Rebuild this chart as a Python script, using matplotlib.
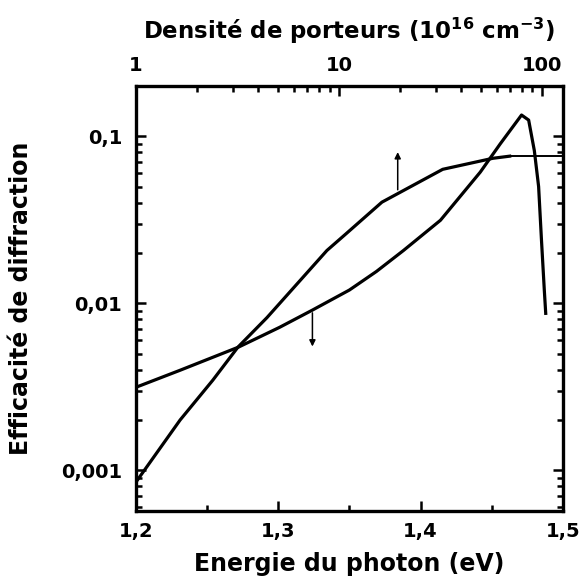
import numpy as np
import matplotlib
matplotlib.use("Agg")
import matplotlib.pyplot as plt
from matplotlib.ticker import FixedLocator, FuncFormatter, LogLocator, NullFormatter

# efficacite vs energie du photon (axe du bas)
energy = [1.200, 1.231, 1.272, 1.301, 1.324, 1.350, 1.369, 1.388, 1.414,
          1.442, 1.456, 1.471, 1.476, 1.480, 1.483, 1.485, 1.487, 1.488]
eff_energy = [0.00314, 0.00397, 0.00546, 0.00718, 0.0091, 0.0120, 0.0155, 0.0207, 0.0314,
              0.061, 0.090, 0.134, 0.125, 0.082, 0.050, 0.024, 0.012, 0.0087]

# efficacite vs densite de porteurs (axe du haut)
density = [1.0, 1.65, 2.39, 3.18, 4.42, 8.73, 10.9, 16.3, 32.5, 57.4, 69.5, 127]
eff_density = [0.00085, 0.0020, 0.00346, 0.00546, 0.0082, 0.0207, 0.0262, 0.0403,
               0.0634, 0.0738, 0.0760, 0.0760]
n_thick = 11  # le plateau final est trace plus fin

# fleches (position, depart, arrivee)
arrow_down = (1.324, 0.0091, 0.0053)
arrow_up = (19.5, 0.046, 0.0835)

plt.rcParams['font.family'] = ['DejaVu Sans']
plt.rcParams['font.weight'] = 'bold'

fig = plt.figure(figsize=(5.82, 5.85), dpi=100)
ax = fig.add_axes([0.2337, 0.1265, 0.967 - 0.2337, 0.853 - 0.1265])

ylabels = {0.001: '0,001', 0.01: '0,01', 0.1: '0,1'}

ax.plot(energy, eff_energy, color='black', lw=2.3, solid_joinstyle='round')
ax.set_yscale('log')
ax.set_xlim(1.2, 1.5)
ax.set_ylim(5.7e-4, 0.2)
ax.xaxis.set_major_locator(FixedLocator([1.2, 1.3, 1.4, 1.5]))
ax.xaxis.set_minor_locator(FixedLocator([1.25, 1.35, 1.45]))
ax.xaxis.set_major_formatter(FuncFormatter(lambda v, p: ('%.1f' % v).replace('.', ',')))
ax.yaxis.set_major_locator(FixedLocator([0.001, 0.01, 0.1]))
ax.yaxis.set_minor_locator(LogLocator(base=10, subs=np.arange(2, 10)))
ax.yaxis.set_minor_formatter(NullFormatter())
ax.yaxis.set_major_formatter(FuncFormatter(lambda v, p: ylabels.get(round(v, 4), '')))
ax.tick_params(axis='both', which='both', direction='in', labelsize=14, width=1.8)
ax.tick_params(axis='y', which='both', right=True)
ax.tick_params(which='major', length=7)
ax.tick_params(which='minor', length=4)
ax.tick_params(axis='x', top=False, pad=8)
ax.tick_params(axis='y', pad=10)
for s in ax.spines.values():
    s.set_linewidth(2.4)

ax.set_xlabel('Energie du photon (eV)', fontsize=17, fontweight='bold', labelpad=8)
ax.set_ylabel('Efficacité de diffraction', fontsize=17, fontweight='bold', labelpad=20)

ax.annotate('', xy=(arrow_down[0], arrow_down[2]), xytext=(arrow_down[0], arrow_down[1]),
            arrowprops=dict(arrowstyle='-|>', color='black', lw=1.1, mutation_scale=9))

ax2 = ax.twiny()
ax2.plot(density[:n_thick], eff_density[:n_thick], color='black', lw=2.3, solid_joinstyle='round')
ax2.plot(density[n_thick - 1:], eff_density[n_thick - 1:], color='black', lw=1.4)
ax2.set_xscale('log')
ax2.set_xlim(1, 127)
ax2.set_ylim(5.7e-4, 0.2)
ax2.xaxis.set_major_locator(FixedLocator([1, 10, 100]))
ax2.xaxis.set_major_formatter(FuncFormatter(lambda v, p: '%d' % v))
ax2.xaxis.set_minor_locator(LogLocator(base=10, subs=np.arange(2, 10)))
ax2.xaxis.set_minor_formatter(NullFormatter())
ax2.tick_params(axis='x', which='both', direction='in', labelsize=14, width=1.8, pad=8)
ax2.tick_params(which='major', length=7)
ax2.tick_params(which='minor', length=4)
ax2.set_xlabel('Densité de porteurs (10$^{\\mathbf{16}}$ cm$^{\\mathbf{-3}}$)', fontsize=16.5,
               fontweight='bold', labelpad=12)
ax2.annotate('', xy=(arrow_up[0], arrow_up[2]), xytext=(arrow_up[0], arrow_up[1]),
             arrowprops=dict(arrowstyle='-|>', color='black', lw=1.1, mutation_scale=9))

fig.savefig('out.png', dpi=100)
